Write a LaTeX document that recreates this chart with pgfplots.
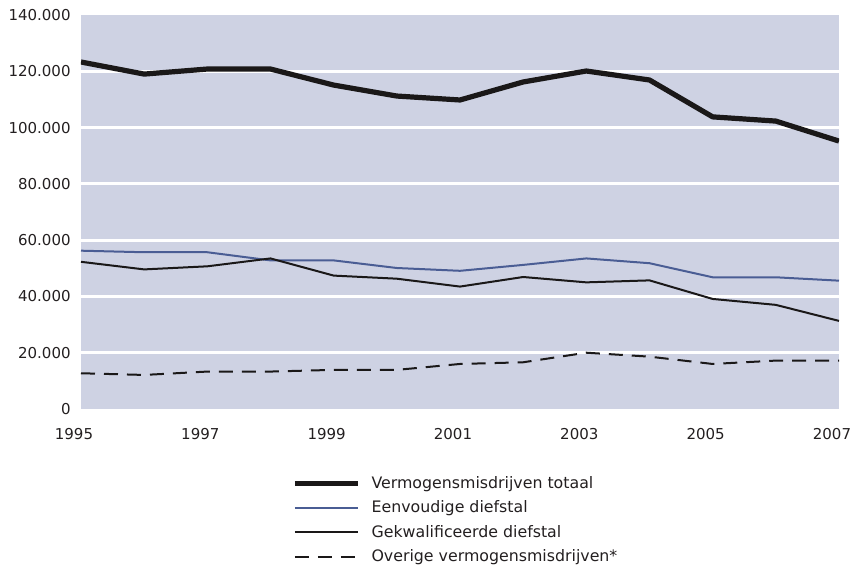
\documentclass[border=0pt]{standalone}
\usepackage{pgfplots}
\pgfplotsset{compat=1.18}
\usepackage{fontspec}
\setmainfont{DejaVu Sans}
\definecolor{bgcol}{RGB}{206,210,227}
\definecolor{bluecol}{RGB}{74,93,148}
\definecolor{txt}{RGB}{35,31,32}
\definecolor{ln}{RGB}{26,24,24}
\begin{document}
\begin{tikzpicture}
\begin{axis}[
    scale only axis,
    width=379pt, height=197pt,
    xmin=1995, xmax=2007,
    ymin=0, ymax=140000,
    axis background/.style={fill=bgcol},
    axis line style={draw=none},
    major tick length=0pt,
    tick style={draw=none},
    xtick={1995,1997,...,2007},
    ytick={0,20000,...,140000},
    extra y ticks={20000,40000,...,120000},
    extra y tick labels={},
    extra y tick style={ymajorgrids=true},
    grid style={white, line width=1.5pt},
    scaled y ticks=false,
    /pgf/number format/assume math mode=true,
    ticklabel style={font=\fontsize{7.5}{9}\selectfont, text=txt},
    yticklabel style={/pgf/number format/.cd, fixed, 1000 sep={.}, /tikz/.cd, inner sep=0pt, xshift=-5pt},
    xticklabel style={/pgf/number format/1000 sep={}, inner sep=0pt, yshift=-9.5pt, xshift=-3.5pt},
    legend style={draw=none, fill=none, at={(0.2783,-0.160)}, anchor=north west,
        inner sep=0pt, font=\fontsize{7.9}{10}\selectfont, text=txt,
        row sep=1.2pt,
        nodes={text height=7pt, text depth=2pt, inner sep=1pt},
        /tikz/every odd column/.append style={column sep=4.5pt}},
    legend cell align=left,
    legend image code/.code={\draw[#1] (0pt,0pt) -- (31.5pt,0pt);},
]
\coordinate (sw) at (rel axis cs:0,0);
\addplot[ln, line width=2.6pt, line join=round] coordinates {
(1995,123300) (1996,119000) (1997,120800) (1998,120800) (1999,115100) (2000,111200) (2001,109800)
(2002,116200) (2003,120100) (2004,116900) (2005,103800) (2006,102300) (2007,95200)};
\addlegendentry{Vermogensmisdrijven totaal}
\addplot[bluecol, line width=1pt] coordinates {
(1995,56250) (1996,55700) (1997,55700) (1998,52800) (1999,52800) (2000,50100) (2001,49100)
(2002,51200) (2003,53500) (2004,51800) (2005,46800) (2006,46800) (2007,45600)};
\addlegendentry{Eenvoudige diefstal}
\addplot[ln, line width=1pt] coordinates {
(1995,52300) (1996,49600) (1997,50700) (1998,53500) (1999,47400) (2000,46300) (2001,43500)
(2002,46900) (2003,45000) (2004,45700) (2005,39100) (2006,37000) (2007,31300)};
\addlegendentry{Gekwalificeerde diefstal}
\addplot[ln, line width=1pt, dash pattern=on 7pt off 4.5pt] coordinates {
(1995,12700) (1996,12100) (1997,13300) (1998,13300) (1999,13900) (2000,13900) (2001,16000)
(2002,16600) (2003,20000) (2004,18600) (2005,16000) (2006,17200) (2007,17200)};
\addlegendentry{Overige vermogensmisdrijven*}
\end{axis}
\path (sw) ++(-40.5pt,-81.5pt) rectangle ++(431.5pt,286pt);
\end{tikzpicture}
\end{document}
